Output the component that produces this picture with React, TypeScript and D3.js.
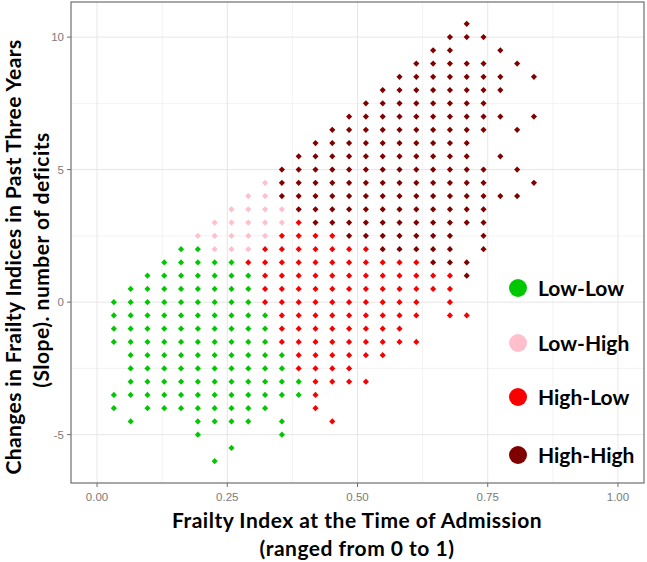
import * as d3 from "d3";

// Frailty index = deficits / number of items assessed
const deficitItems = 31;

// Each row: [slope value, deficit counts observed at that slope]
const lowLowRows: [number, number[]][] = [
	[2, [5, 6]],
	[1.5, [4, 5, 6, 7, 8]],
	[1, [3, 4, 5, 6, 7, 8, 9]],
	[0.5, [2, 3, 4, 5, 6, 7, 8, 9]],
	[0, [1, 2, 3, 4, 5, 6, 7, 8, 9]],
	[-0.5, [1, 2, 3, 4, 5, 6, 7, 8, 9, 10]],
	[-1, [1, 2, 3, 4, 5, 6, 7, 8, 9, 10]],
	[-1.5, [1, 2, 3, 4, 5, 6, 7, 8, 9, 10]],
	[-2, [2, 3, 4, 5, 6, 7, 8, 9, 10, 11]],
	[-2.5, [2, 3, 4, 5, 6, 7, 8, 9, 10, 11]],
	[-3, [2, 3, 4, 5, 6, 7, 8, 9, 10, 11, 12]],
	[-3.5, [1, 2, 3, 4, 5, 6, 7, 8, 9, 10, 11, 12]],
	[-4, [1, 3, 4, 5, 6, 7, 8, 9, 10]],
	[-4.5, [2, 6, 7, 8, 9, 11]],
	[-5, [6, 11]],
	[-5.5, [8]],
	[-6, [7]],
];

const lowHighRows: [number, number[]][] = [
	[4.5, [10]],
	[4, [9, 10]],
	[3.5, [8, 9, 10, 11]],
	[3, [7, 8, 9, 10, 11]],
	[2.5, [6, 7, 8, 9, 10]],
	[2, [7, 8, 9]],
];

const highLowRows: [number, number[]][] = [
	[3, [12]],
	[2.5, [11, 12, 13, 14]],
	[2, [10, 11, 12, 13, 14, 15, 16]],
	[1.5, [9, 10, 11, 12, 13, 14, 15, 16, 17, 18, 19]],
	[1, [10, 11, 12, 13, 14, 15, 16, 17, 18, 19, 20, 21]],
	[0.5, [10, 11, 12, 13, 14, 15, 16, 17, 18, 19, 20, 21]],
	[0, [10, 11, 12, 13, 14, 15, 16, 17, 18, 19, 21]],
	[-0.5, [11, 12, 13, 14, 15, 16, 17, 18, 19, 21, 22]],
	[-1, [11, 12, 13, 14, 15, 16, 17, 18]],
	[-1.5, [11, 12, 13, 14, 15, 16, 17, 18, 19]],
	[-2, [12, 13, 14, 15, 16, 17]],
	[-2.5, [12, 13, 14, 15]],
	[-3, [13, 14, 15, 16]],
	[-3.5, [13]],
	[-4, [13]],
	[-4.5, [14]],
];

const highHighRows: [number, number[]][] = [
	[10.5, [22]],
	[10, [21, 22, 23]],
	[9.5, [20, 21, 24]],
	[9, [19, 20, 21, 22, 23, 25]],
	[8.5, [18, 19, 20, 21, 22, 23, 24, 26]],
	[8, [17, 18, 19, 20, 21, 22, 23, 24]],
	[7.5, [16, 17, 18, 19, 20, 21, 22, 23]],
	[7, [15, 16, 17, 18, 19, 20, 21, 22, 23, 24, 26]],
	[6.5, [14, 15, 16, 17, 18, 19, 20, 21, 22, 23, 25]],
	[6, [13, 14, 15, 16, 17, 18, 19, 20, 21, 22]],
	[5.5, [12, 13, 14, 15, 16, 17, 18, 19, 20, 21, 22, 24]],
	[5, [11, 12, 13, 14, 15, 16, 17, 18, 19, 20, 21, 22, 23, 25]],
	[4.5, [11, 12, 13, 14, 15, 16, 17, 18, 19, 20, 21, 22, 23, 26]],
	[4, [11, 12, 13, 14, 15, 16, 17, 18, 19, 20, 21, 22, 23, 24, 25]],
	[3.5, [12, 13, 14, 15, 16, 17, 18, 19, 20, 21, 22, 23]],
	[3, [13, 14, 15, 16, 17, 18, 19, 20, 21, 22, 23]],
	[2.5, [15, 16, 17, 18, 19, 20, 21, 23]],
	[2, [17, 18, 19, 20, 21, 23]],
	[1.5, [20, 21, 22]],
	[1, [22]],
];

const groupLabels = ["Low-Low", "Low-High", "High-Low", "High-High"];
const groupColors = ["#00c800", "#ffc0cb", "#f80000", "#800000"];
const groupRows = [lowLowRows, lowHighRows, highLowRows, highHighRows];

const xTicks = [0, 0.25, 0.5, 0.75, 1];
const xMinor = [0.125, 0.375, 0.625, 0.875];
const yTicks = [-5, 0, 5, 10];
const yMinor = [-2.5, 2.5, 7.5];

const width = 647;
const height = 562;
const panel = { left: 71, right: 644, top: 2, bottom: 483 };

export default function App() {
	const x = d3.scaleLinear().domain([-0.05, 1.05]).range([panel.left, panel.right]);
	const y = d3.scaleLinear().domain([-6.825, 11.325]).range([panel.bottom, panel.top]);

	const points = groupRows.flatMap((rows, g) =>
		rows.flatMap(([slope, counts]) =>
			counts.map((c) => ({ fi: c / deficitItems, slope, g })),
		),
	);

	const diamond = d3.symbol(d3.symbolDiamond2, 24)();
	const titleFont = "Lato, 'Open Sans', sans-serif";
	const tickFont = "'Liberation Sans', Arial, sans-serif";

	return (
		<div style={{ position: "absolute", left: 0, top: 0 }}>
			<svg width={width} height={height} style={{ display: "block", background: "#fff" }}>
				{/* grid */}
				{xMinor.map((t) => (
					<line key={`xm${t}`} x1={x(t)} x2={x(t)} y1={panel.top} y2={panel.bottom} stroke="#f3f3f3" strokeWidth={1} />
				))}
				{yMinor.map((t) => (
					<line key={`ym${t}`} x1={panel.left} x2={panel.right} y1={y(t)} y2={y(t)} stroke="#f3f3f3" strokeWidth={1} />
				))}
				{xTicks.map((t) => (
					<line key={`xg${t}`} x1={x(t)} x2={x(t)} y1={panel.top} y2={panel.bottom} stroke="#e6e6e6" strokeWidth={1} />
				))}
				{yTicks.map((t) => (
					<line key={`yg${t}`} x1={panel.left} x2={panel.right} y1={y(t)} y2={y(t)} stroke="#e6e6e6" strokeWidth={1} />
				))}

				{/* points */}
				{points.map((p, i) => (
					<path
						key={i}
						d={diamond ?? ""}
						transform={`translate(${x(p.fi)},${y(p.slope)})`}
						fill={groupColors[p.g]}
					/>
				))}

				{/* panel border */}
				<rect
					x={panel.left}
					y={panel.top}
					width={panel.right - panel.left}
					height={panel.bottom - panel.top}
					fill="none"
					stroke="#6e6e6e"
					strokeWidth={1.2}
				/>

				{/* x axis */}
				{xTicks.map((t) => (
					<g key={`xt${t}`}>
						<line x1={x(t)} x2={x(t)} y1={panel.bottom} y2={panel.bottom + 4} stroke="#6e6e6e" />
						<text x={x(t)} y={panel.bottom + 18} textAnchor="middle" fontFamily={tickFont} fontSize={11.5} fill="#7a7a7a">
							{d3.format(".2f")(t)}
						</text>
					</g>
				))}
				{/* y axis */}
				{yTicks.map((t) => (
					<g key={`yt${t}`}>
						<line x1={panel.left - 4} x2={panel.left} y1={y(t)} y2={y(t)} stroke="#6e6e6e" />
						<text x={panel.left - 7} y={y(t) + 4} textAnchor="end" fontFamily={tickFont} fontSize={11.5} fill="#7a7a7a">
							{t}
						</text>
					</g>
				))}

				{/* axis titles */}
				<g fontFamily={titleFont} fontWeight="bold" fontSize={21} fill="#000" letterSpacing={0.5}>
					<text x={357} y={528} textAnchor="middle">
						Frailty Index at the Time of Admission
					</text>
					<text x={357} y={556} textAnchor="middle">
						(ranged from 0 to 1)
					</text>
					<text transform="translate(20.5,257) rotate(-90)" textAnchor="middle" letterSpacing={0.4}>
						Changes in Frailty Indices in Past Three Years
					</text>
					<text transform="translate(48.5,260) rotate(-90)" textAnchor="middle">
						(Slope). number of deficits
					</text>
				</g>

				{/* legend */}
				{groupLabels.map((label, i) => {
					const cy = [288, 343, 397, 455][i];
					return (
						<g key={label}>
							<circle cx={518} cy={cy} r={9} fill={groupColors[i]} />
							<text x={538} y={cy + 7.5} fontFamily={titleFont} fontWeight="bold" fontSize={21} fill="#000">
								{label}
							</text>
						</g>
					);
				})}
			</svg>
		</div>
	);
}
